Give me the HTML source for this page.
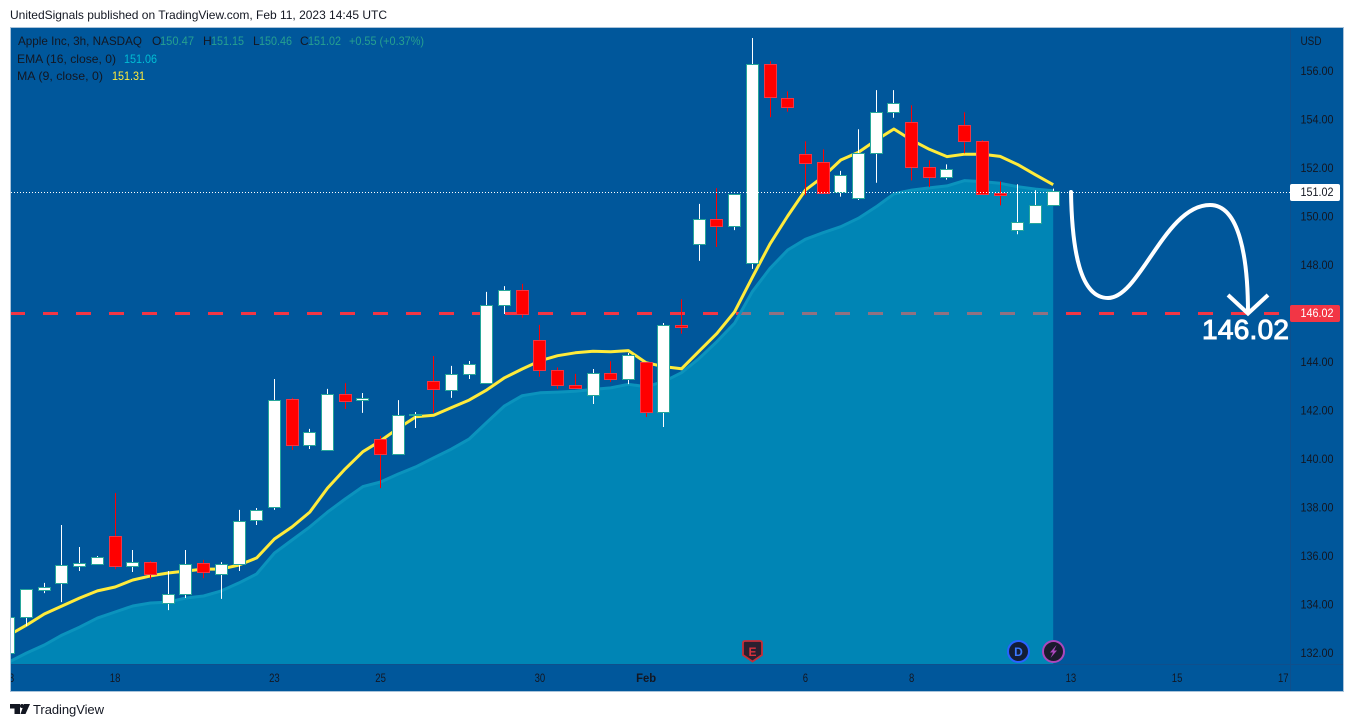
<!DOCTYPE html>
<html lang="en">
<head>
<meta charset="utf-8">
<title>Apple Inc 3h chart</title>
<style>
html,body{margin:0;padding:0;background:#fff;width:1354px;height:727px;overflow:hidden}
svg{display:block;font-family:"Liberation Sans",sans-serif}
</style>
</head>
<body>
<svg id="chart" xmlns="http://www.w3.org/2000/svg" width="1354" height="727" viewBox="0 0 1354 727">
  <defs>
    <clipPath id="pane-clip"><rect x="11" y="28" width="1279.5" height="636"/></clipPath>
    <clipPath id="time-clip"><rect x="11" y="665" width="1279.5" height="26"/></clipPath>
  </defs>
  <text x="10" y="19" font-size="12" fill="#131722" textLength="377" lengthAdjust="spacing">UnitedSignals published on TradingView.com, Feb 11, 2023 14:45 UTC</text>
  <rect x="10.5" y="27.5" width="1333" height="664" fill="#00579b" stroke="#a9c3da" stroke-width="1"/>
  <g id="pane" clip-path="url(#pane-clip)"></g>
  <line x1="11" y1="664.5" x2="1343" y2="664.5" stroke="#0f4f8c" stroke-width="1"/>
  <line x1="1290.5" y1="28" x2="1290.5" y2="691" stroke="#0f4f8c" stroke-width="1"/>

  <g>
    <path d="M1071 192 C1072 250,1080 298,1108 298 C1140 298,1165 205,1210 205 C1240 205,1248 260,1248 313" fill="none" stroke="#fff" stroke-width="4" stroke-linecap="round"/>
    <path d="M1228 295 L1248 313.5 L1268 295" fill="none" stroke="#fff" stroke-width="4"/>
    <text x="1202" y="339" font-size="28" fill="#fff" stroke="#fff" stroke-width="1" textLength="87" lengthAdjust="spacing">146.02</text>
  </g>

  <g>
    <path d="M743 643 Q743 641 745 641 L760 641 Q762 641 762 643 L762 655 L752.5 661.5 L743 655 Z" fill="#2b2030" stroke="#c62e38" stroke-width="1.8"/>
    <text x="752.5" y="656" font-size="12" font-weight="700" fill="#d9323e" text-anchor="middle">E</text>
  </g>
  <g>
    <circle cx="1018.5" cy="651.5" r="10.5" fill="#131d36" stroke="#2962ff" stroke-width="2"/>
    <text x="1018.5" y="656" font-size="12" font-weight="700" fill="#3b78ff" text-anchor="middle">D</text>
  </g>
  <g>
    <circle cx="1053.5" cy="651.5" r="10.5" fill="#1b1a2c" stroke="#ab47bc" stroke-width="2"/>
    <polygon points="1056.5,645 1050,652.5 1053,652.5 1050.5,658 1057,650.5 1054,650.5" fill="#ab47bc"/>
  </g>

  <g id="y-axis" font-size="12" fill="#131722"></g>
  <text x="1300.5" y="45" font-size="12" fill="#131722" textLength="21" lengthAdjust="spacingAndGlyphs">USD</text>
  <g id="x-axis" font-size="12" fill="#131722" clip-path="url(#time-clip)"></g>

  <g id="price-tags" font-size="12"></g>

  <g font-size="12">
    <text x="18" y="45" fill="#131722" textLength="124" lengthAdjust="spacingAndGlyphs">Apple Inc, 3h, NASDAQ</text>
    <text x="152" y="45" fill="#131722">O</text>
    <text x="160" y="45" fill="#26a08f" textLength="34" lengthAdjust="spacingAndGlyphs">150.47</text>
    <text x="203" y="45" fill="#131722">H</text>
    <text x="211" y="45" fill="#26a08f" textLength="33" lengthAdjust="spacingAndGlyphs">151.15</text>
    <text x="253" y="45" fill="#131722">L</text>
    <text x="259" y="45" fill="#26a08f" textLength="33" lengthAdjust="spacingAndGlyphs">150.46</text>
    <text x="300" y="45" fill="#131722">C</text>
    <text x="308" y="45" fill="#26a08f" textLength="33" lengthAdjust="spacingAndGlyphs">151.02</text>
    <text x="349" y="45" fill="#26a08f" textLength="75" lengthAdjust="spacingAndGlyphs">+0.55 (+0.37%)</text>
    <text x="17" y="63" fill="#131722" textLength="99" lengthAdjust="spacingAndGlyphs">EMA (16, close, 0)</text>
    <text x="124" y="63" fill="#00bcd4" textLength="33" lengthAdjust="spacingAndGlyphs">151.06</text>
    <text x="17" y="80" fill="#131722" textLength="86" lengthAdjust="spacingAndGlyphs">MA (9, close, 0)</text>
    <text x="112" y="80" fill="#ffeb3b" textLength="33" lengthAdjust="spacingAndGlyphs">151.31</text>
  </g>

  <g>
    <path d="M10 704 H20 V714 H14.5 V708.5 H10 Z M24 704 H30 L25.5 714 H20.5 Z" fill="#131722"/>
    <circle cx="22" cy="706" r="2" fill="#131722"/>
    <text x="33" y="714" font-size="13" fill="#131722" textLength="71" lengthAdjust="spacing">TradingView</text>
  </g>
</svg>
<script>
const candleOpen = [132.00,133.48,134.57,134.85,135.55,135.67,136.82,135.55,135.75,134.06,134.43,135.71,135.22,135.63,137.48,138.02,142.47,140.54,140.33,142.68,142.42,140.82,140.18,141.79,143.18,142.83,143.49,143.12,146.34,146.96,144.90,143.66,143.04,142.63,143.53,143.29,144.00,141.93,145.51,148.85,149.88,149.60,148.07,156.28,154.87,152.57,152.24,151.00,150.75,152.61,154.30,153.89,152.03,151.62,153.76,153.10,150.96,149.43,149.72,150.47];
const candleHigh = [133.48,134.60,134.89,137.28,136.37,136.00,138.60,136.25,135.79,135.38,136.25,135.84,135.75,137.90,137.98,143.30,142.52,141.24,142.89,143.13,142.72,140.95,142.43,141.94,144.25,143.84,144.04,146.89,147.13,147.22,145.53,143.78,143.51,143.71,144.03,144.37,144.00,145.61,146.59,150.52,151.17,150.92,157.36,156.40,155.16,153.10,152.77,151.88,153.60,155.21,155.21,154.59,152.32,152.15,154.30,153.15,151.45,151.33,151.08,151.15];
const candleLow = [132.00,133.11,134.47,134.10,135.38,135.67,135.46,135.34,135.05,133.77,134.27,135.09,134.23,135.38,137.28,137.90,140.37,140.41,140.33,142.06,141.90,138.80,140.18,141.28,141.90,142.52,143.30,143.12,145.98,145.83,143.39,142.89,142.90,142.27,143.18,143.09,141.73,141.32,145.17,148.17,148.74,149.44,147.84,154.10,154.32,150.87,150.96,150.82,150.68,151.39,154.07,151.49,151.21,151.52,152.61,150.92,150.46,149.27,149.72,150.46];
const candleClose = [133.48,134.60,134.71,135.59,135.71,135.92,135.55,135.75,135.22,134.43,135.67,135.30,135.63,137.44,137.86,142.43,140.54,141.11,142.68,142.39,142.50,140.18,141.80,141.84,142.87,143.49,143.91,146.34,146.96,145.97,143.66,143.04,142.90,143.53,143.29,144.28,141.93,145.51,145.43,149.88,149.60,150.92,156.28,154.92,154.50,152.19,150.96,151.70,152.61,154.30,154.67,152.03,151.62,151.95,153.10,150.92,150.87,149.76,150.46,151.02];
const maValues = [132.74,133.15,133.61,133.94,134.27,134.56,134.72,135.01,135.18,135.30,135.38,135.46,135.46,135.63,135.92,136.70,137.20,137.81,138.80,139.59,140.30,140.75,141.27,141.74,141.80,142.12,142.43,142.85,143.35,143.71,144.05,144.26,144.38,144.44,144.42,144.47,143.97,143.81,143.72,144.45,145.18,146.07,147.49,148.87,150.02,151.09,151.64,152.33,152.65,153.15,153.61,153.15,152.77,152.47,152.57,152.57,152.48,152.14,151.72,151.31];
const emaValues = [131.63,132.00,132.33,132.74,133.07,133.44,133.69,133.94,134.06,134.10,134.27,134.35,134.56,134.89,135.26,136.12,136.66,137.20,137.81,138.35,138.86,139.05,139.38,139.68,140.05,140.41,140.82,141.51,142.19,142.61,142.73,142.76,142.79,142.87,142.93,143.08,142.98,143.19,143.56,144.15,144.84,145.60,146.90,147.86,148.62,149.06,149.33,149.58,149.93,150.40,150.93,151.09,151.18,151.26,151.48,151.44,151.37,151.23,151.13,151.06];
const priceTicks = [132,134,136,138,140,142,144,146,148,150,152,154,156];
const priceTickLabels = ["132.00","134.00","136.00","138.00","140.00","142.00","144.00","146.00","148.00","150.00","152.00","154.00","156.00"];
const timeTickBars = [0,6,15,21,30,36,45,51,60,66,72];
const timeTickLabels = ["13","18","23","25","30","Feb","6","8","13","15","17"];
const lastPrice = 151.02;
const targetPrice = 146.02;

function xScale(i){ return 8.9 + 17.7 * i; }
function yScale(p){ return 653 - (p - 132) * 24.25; }

const NS = "http://www.w3.org/2000/svg";
function make(tag, parent, attrs){
  const el = document.createElementNS(NS, tag);
  for (const k in attrs) el.setAttribute(k, attrs[k]);
  parent.appendChild(el);
  return el;
}
const pane = document.getElementById("pane");
const bottomY = 664;

const targetY = Math.round(yScale(targetPrice)) + 0.5;
const targetLine = make("line", pane, {x1:10, y1:targetY, x2:1290, y2:targetY, stroke:"#f23645", "stroke-width":3, "stroke-dasharray":"15 18"});



let areaD = "M" + xScale(0) + " " + bottomY;
let emaD = "";
emaValues.forEach(function(v, i){
  areaD += " L" + xScale(i).toFixed(1) + " " + yScale(v).toFixed(1);
  emaD += (i ? " L" : "M") + xScale(i).toFixed(1) + " " + yScale(v).toFixed(1);
});
areaD += " L" + xScale(emaValues.length - 1).toFixed(1) + " " + bottomY + " Z";
const emaArea = make("path", pane, {d:areaD, fill:"rgba(0,202,220,0.4)"});


const emaLine = make("path", pane, {d:emaD, fill:"none", stroke:"#0b93bd", "stroke-width":3, "stroke-linejoin":"round"});



let maD = "";
maValues.forEach(function(v, i){
  maD += (i ? " L" : "M") + xScale(i).toFixed(1) + " " + yScale(v).toFixed(1);
});
const maLine = make("path", pane, {d:maD, fill:"none", stroke:"#ffeb3b", "stroke-width":3, "stroke-linejoin":"round"});



candleOpen.forEach(function(o, i){
  const c = candleClose[i];
  const up = c >= o;
  const cx = Math.floor(xScale(i)) + 0.5;
  const top = Math.floor(yScale(Math.max(o, c))) + 0.5;
  const bot = Math.floor(yScale(Math.min(o, c))) + 0.5;
  const g = make("g", pane, {});
  
  
  const wick = make("line", g, {x1:cx, x2:cx, y1:yScale(candleHigh[i]), y2:yScale(candleLow[i]), stroke: up ? "#ffffff" : "#ff0000", "stroke-width":1});
  
  
  const body = make("rect", g, {x:cx - 6, y:top, width:12, height:Math.max(bot - top, 1), fill: up ? "#ffffff" : "#ff0000", stroke: up ? "#26a69a" : "#f23645", "stroke-width":1});
  
  
});

const lastY = Math.round(yScale(lastPrice)) + 0.5;
const lastLine = make("line", pane, {x1:11, y1:lastY, x2:1290, y2:lastY, stroke:"#ffffff", "stroke-width":1, "stroke-dasharray":"1 2"});



const yAxis = document.getElementById("y-axis");
priceTicks.forEach(function(p, i){
  const t = make("text", yAxis, {x:1300.5, y:yScale(p) + 4, textLength:33, lengthAdjust:"spacingAndGlyphs"});
  
  
  t.textContent = priceTickLabels[i];
});

const xAxis = document.getElementById("x-axis");
timeTickBars.forEach(function(b, i){
  const label = timeTickLabels[i];
  const t = make("text", xAxis, {x:xScale(b), y:682, "text-anchor":"middle", textLength: label === "Feb" ? 20 : label.length * 5.3, lengthAdjust:"spacingAndGlyphs"});
  
  
  if (label === "Feb") t.setAttribute("font-weight", "700");
  t.textContent = label;
});

const tags = document.getElementById("price-tags");
const lastTag = make("rect", tags, {x:1290, y:Math.round(yScale(lastPrice)) - 8, width:50, height:17, rx:2, fill:"#ffffff"});


const lastTagText = make("text", tags, {x:1300.5, y:Math.round(yScale(lastPrice)) + 4, fill:"#131722", textLength:33, lengthAdjust:"spacingAndGlyphs"});


lastTagText.textContent = lastPrice.toFixed(2);
const targetTag = make("rect", tags, {x:1290, y:Math.round(yScale(targetPrice)) - 8, width:50, height:17, rx:2, fill:"#f23645"});


const targetTagText = make("text", tags, {x:1300.5, y:Math.round(yScale(targetPrice)) + 4, fill:"#ffffff", textLength:33, lengthAdjust:"spacingAndGlyphs"});


targetTagText.textContent = targetPrice.toFixed(2);
</script>
</body>
</html>
